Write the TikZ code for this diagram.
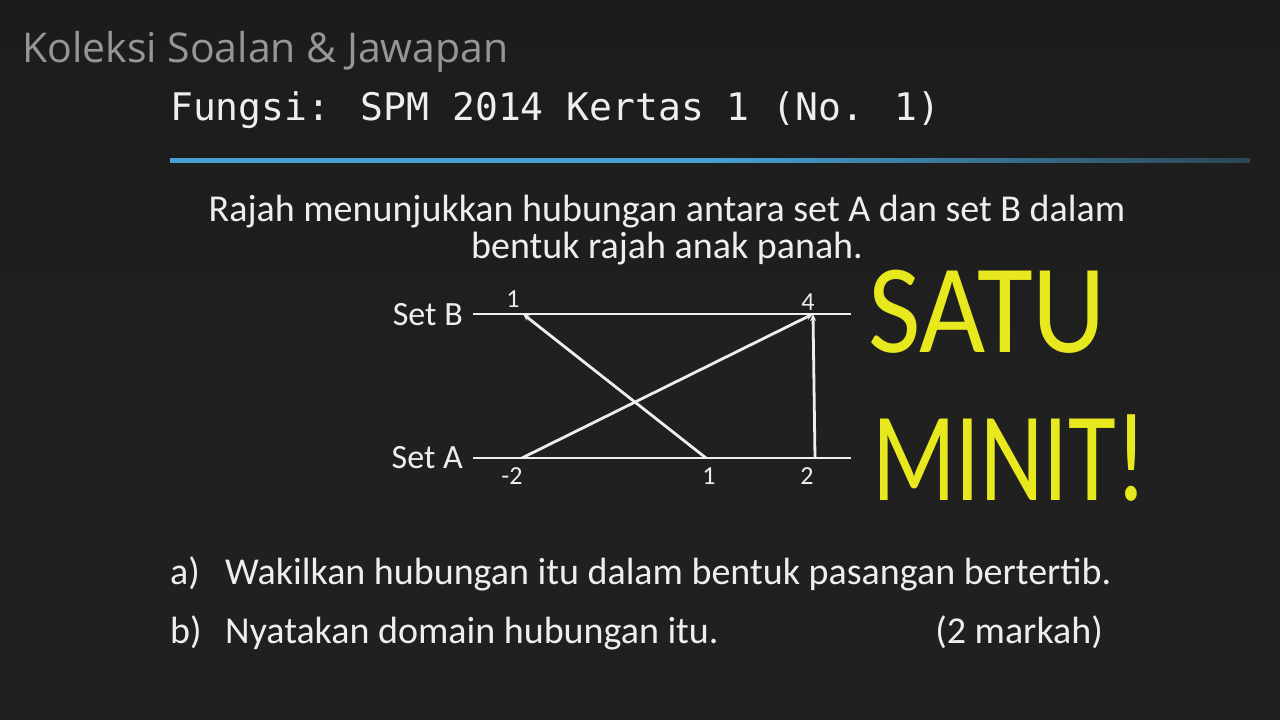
\documentclass[tikz,border=0pt]{standalone}
\usepackage{fontspec}
\setmainfont{Carlito}
\newfontfamily\monof{DejaVu Sans Mono}
\newfontfamily\handf{Open Sans}
\usetikzlibrary{arrows.meta}
\definecolor{board}{RGB}{32,32,32}
\definecolor{chalk}{RGB}{238,238,238}
\definecolor{greychalk}{RGB}{150,150,150}
\definecolor{bluechalk}{RGB}{70,160,210}
\definecolor{yel}{RGB}{232,232,30}
\tikzset{
  txt/.style={text=chalk, inner sep=0pt, font=\fontsize{38}{42}\selectfont},
  setline/.style={draw=chalk, line width=2.8pt},
  maparrow/.style={draw=chalk, line width=2.8pt, -{Stealth[length=7pt,width=6pt]}},
  num/.style={text=chalk, inner sep=0pt, font=\fontsize{26}{30}\selectfont},
  big/.style={text=yel, inner sep=0pt, anchor=base west, transform shape, font=\fontsize{127}{130}\selectfont}
}
\begin{document}
\begin{tikzpicture}[x=1pt,y=-1pt]
\fill[board] (0,0) rectangle (1280,720);
\useasboundingbox (0,0) rectangle (1280,720);
\shade[top color=board!80!black, bottom color=board, opacity=0.6] (0,0) rectangle (1280,360);
% header
\node[anchor=base west, inner sep=0pt, text=greychalk, font=\handf\fontsize{41}{44}\selectfont] (kol) at (22,62) {Koleksi Soalan \& Jawapan};
\node[anchor=base west, inner sep=0pt, text=chalk, font=\monof\fontsize{38}{40}\selectfont] (title) at (170,120) {Fungsi: SPM 2014 Kertas 1 (No. 1)};
\shade[left color=bluechalk, right color=bluechalk!30!board, middle color=bluechalk] (170,158) rectangle (1250,162);
% question text
\node[txt, anchor=base] (q1) at (667,221) {Rajah menunjukkan hubungan antara set A dan set B dalam};
\node[txt, anchor=base] (q2) at (667,258) {bentuk rajah anak panah.};
% diagram
\node[txt, anchor=east, font=\fontsize{34}{36}\selectfont] (lb) at (463,315) {Set B};
\node[txt, anchor=east, font=\fontsize{34}{36}\selectfont] (la) at (463,458) {Set A};
\coordinate (bs) at (473,314);
\coordinate (be) at (851,314);
\coordinate (as) at (473,458);
\coordinate (ae) at (851,458);
\draw[setline] (bs) -- (be);
\draw[setline] (as) -- (ae);
\coordinate (b1) at (523,314);
\coordinate (b4) at (813,314);
\coordinate (am2) at (522,458);
\coordinate (a1) at (706,458);
\coordinate (a2) at (815,458);
\draw[maparrow] (a1) -- (b1);
\draw[maparrow] (am2) -- (b4);
\draw[maparrow] (a2) -- (b4);
\node[num, anchor=base] (n1) at (513,307) {1};
\node[num, anchor=base] (n4) at (808,310) {4};
\node[num, anchor=base] (nm2) at (512,484) {-2};
\node[num, anchor=base] (na1) at (709,484) {1};
\node[num, anchor=base] (na2) at (807,484) {2};
% big text
\node[big, xscale=0.9] (satu) at (868,352) {SATU};
\node[big, xscale=0.77] (minit) at (872,500) {MINIT!};
% parts
\node[txt, anchor=base west] (pa) at (170,584) {a)};
\node[txt, anchor=base west] (ta) at (225,584) {Wakilkan hubungan itu dalam bentuk pasangan bertertib.};
\node[txt, anchor=base west] (pb) at (170,643) {b)};
\node[txt, anchor=base west] (tb) at (225,643) {Nyatakan domain hubungan itu.};
\node[txt, anchor=base east] (mk) at (1103,643) {(2 markah)};
\end{tikzpicture}
\end{document}
